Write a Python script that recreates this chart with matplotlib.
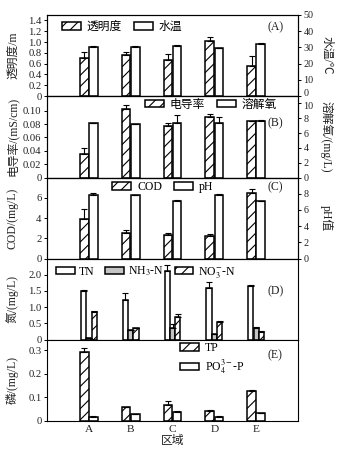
import numpy as np
import matplotlib
matplotlib.use("Agg")
import matplotlib.pyplot as plt
import matplotlib.transforms as mtransforms
from matplotlib.ticker import FixedLocator, FixedFormatter

plt.rcParams['font.family'] = ['Liberation Serif', 'Noto Sans CJK SC']
plt.rcParams['mathtext.fontset'] = 'stix'
plt.rcParams['hatch.linewidth'] = 0.8
plt.rcParams['axes.linewidth'] = 0.8

regions = ["A", "B", "C", "D", "E"]

# (A) transparency / water temperature
transp = [0.71, 0.76, 0.66, 1.02, 0.55]
transp_err = [0.11, 0.05, 0.12, 0.08, 0.19]
temp = [30.5, 30.0, 31.0, 29.5, 32.0]
temp_err = [0.6, 0.6, 0.5, 0.3, 0.7]

# (B) conductivity / dissolved oxygen
cond = [0.035, 0.103, 0.077, 0.090, 0.084]
cond_err = [0.009, 0.005, 0.004, 0.005, 0.001]
do = [7.3, 7.2, 7.4, 7.3, 7.6]
do_err = [0.0, 0.0, 1.1, 0.9, 0.1]

# (C) COD / pH
cod = [3.9, 2.5, 2.3, 2.2, 6.45]
cod_err = [1.0, 0.3, 0.25, 0.2, 0.4]
ph = [7.9, 7.78, 7.16, 7.9, 7.07]
ph_err = [0.2, 0.05, 0.05, 0.05, 0.05]

# (D) nitrogen
tn = [1.51, 1.22, 2.12, 1.58, 1.66]
tn_err = [0.02, 0.21, 0.19, 0.21, 0.02]
nh3 = [0.06, 0.28, 0.36, 0.18, 0.37]
nh3_err = [0.0, 0.02, 0.12, 0.0, 0.02]
no3 = [0.85, 0.34, 0.68, 0.55, 0.24]
no3_err = [0.02, 0.03, 0.1, 0.01, 0.01]

# (E) phosphorus
tp = [0.293, 0.057, 0.067, 0.043, 0.127]
tp_err = [0.015, 0.002, 0.015, 0.002, 0.003]
po4 = [0.017, 0.029, 0.039, 0.017, 0.032]
po4_err = [0.001, 0.001, 0.002, 0.001, 0.001]

x = np.arange(len(regions))
TXT = '#222222'
FS_TICK = 7.7
FS_LAB = 8.5


def bars(ax, pos, vals, errs, w, face, hatch=None, label=None):
    b = ax.bar(pos, vals, w, color=face, edgecolor='k', linewidth=1.1,
               hatch=hatch, label=label, zorder=2)
    ax.errorbar(pos, vals, yerr=[np.zeros(len(vals)), errs], fmt='none',
                ecolor='k', elinewidth=0.8, capsize=2, capthick=0.8, zorder=3)
    return b


def style_y(ax, ticks, labels, size=FS_TICK):
    ax.yaxis.set_major_locator(FixedLocator(ticks))
    ax.yaxis.set_major_formatter(FixedFormatter(labels))
    ax.tick_params(axis='y', direction='out', length=2.5, width=0.7,
                   labelsize=size, labelcolor=TXT, pad=1.5)


fig = plt.figure(figsize=(3.42, 4.55), dpi=100)
left, width = 47 / 342, 251 / 342
tops = [15, 96, 177.5, 258.5, 339.5, 420.7]
axes = []
for i in range(5):
    bottom = 1 - tops[i + 1] / 455
    h = (tops[i + 1] - tops[i]) / 455
    ax = fig.add_axes([left, bottom, width, h])
    ax.set_xlim(-1, 5)
    ax.set_xticks(x)
    if i < 4:
        ax.tick_params(axis='x', length=0, labelbottom=False)
    else:
        ax.set_xticklabels(regions)
        ax.tick_params(axis='x', length=0, labelsize=FS_TICK + 0.5,
                       labelcolor=TXT, pad=3)
        ax.set_xlabel("区域", fontsize=FS_LAB, color=TXT, labelpad=1)
    axes.append(ax)

w2, off2 = 0.21, 0.11
leg_kw = dict(frameon=False, fontsize=FS_LAB, handlelength=1.6, handleheight=0.55,
              handletextpad=0.5, columnspacing=1.0, borderpad=0, borderaxespad=0)
right_axes = []

# panel A
ax = axes[0]
axr = ax.twinx()
right_axes.append(axr)
h1 = bars(ax, x - off2, transp, transp_err, w2, 'white', '///')
h2 = bars(axr, x + off2, temp, temp_err, w2, 'white')
ax.set_ylim(0, 1.5)
axr.set_ylim(0, 50)
style_y(ax, [0, 0.2, 0.4, 0.6, 0.8, 1.0, 1.2, 1.4],
        ["0", "0.2", "0.4", "0.6", "0.8", "1.0", "1.2", "1.4"])
style_y(axr, [0, 10, 20, 30, 40, 50], ["0", "10", "20", "30", "40", "50"], 7.3)
ax.set_ylabel("透明度/m", fontsize=FS_LAB, color=TXT)
axr.set_ylabel("水温/℃", fontsize=FS_LAB, color=TXT, rotation=270)
axr.legend([h1, h2], ["透明度", "水温"], loc='center left',
           bbox_to_anchor=(0.06, 0.85), ncol=2, **leg_kw)
axr.text(0.91, 0.85, "(A)", transform=ax.transAxes, ha='center', va='center',
         fontsize=FS_LAB, color=TXT)

# panel B
ax = axes[1]
axr = ax.twinx()
right_axes.append(axr)
h1 = bars(ax, x - off2, cond, cond_err, w2, 'white', '///')
h2 = bars(axr, x + off2, do, do_err, w2, 'white')
ax.set_ylim(0, 0.122)
axr.set_ylim(0, 11.0)
style_y(ax, [0, 0.02, 0.04, 0.06, 0.08, 0.10],
        ["0", "0.02", "0.04", "0.06", "0.08", "0.10"])
style_y(axr, [0, 2, 4, 6, 8, 10], ["0", "2", "4", "6", "8", "10"], 7.3)
ax.set_ylabel("电导率/(mS/cm)", fontsize=FS_LAB, color=TXT)
axr.set_ylabel("溶解氧/(mg/L)", fontsize=FS_LAB, color=TXT, rotation=270)
axr.legend([h1, h2], ["电导率", "溶解氧"], loc='center left',
           bbox_to_anchor=(0.39, 0.89), ncol=2, **leg_kw)
axr.text(0.91, 0.67, "(B)", transform=ax.transAxes, ha='center', va='center',
         fontsize=FS_LAB, color=TXT)

# panel C
ax = axes[2]
axr = ax.twinx()
right_axes.append(axr)
h1 = bars(ax, x - off2, cod, cod_err, w2, 'white', '///')
h2 = bars(axr, x + off2, ph, ph_err, w2, 'white')
ax.set_ylim(0, 8)
axr.set_ylim(0, 10)
style_y(ax, [0, 2, 4, 6], ["0", "2", "4", "6"])
style_y(axr, [0, 2, 4, 6, 8], ["0", "2", "4", "6", "8"], 7.3)
ax.set_ylabel("COD/(mg/L)", fontsize=FS_LAB, color=TXT)
axr.set_ylabel("pH值", fontsize=FS_LAB, color=TXT, rotation=270)
axr.legend([h1, h2], ["COD", "pH"], loc='center left',
           bbox_to_anchor=(0.26, 0.88), ncol=2, **leg_kw)
axr.text(0.91, 0.88, "(C)", transform=ax.transAxes, ha='center', va='center',
         fontsize=FS_LAB, color=TXT)

# panel D
ax = axes[3]
w3, off3 = 0.125, 0.127
h1 = bars(ax, x - off3, tn, tn_err, w3, 'white')
h2 = bars(ax, x, nh3, nh3_err, w3, '#c4c4c4')
h3 = bars(ax, x + off3, no3, no3_err, w3, 'white', '///')
ax.set_ylim(0, 2.5)
style_y(ax, [0, 0.5, 1.0, 1.5, 2.0], ["0", "0.5", "1.0", "1.5", "2.0"])
ax.set_ylabel("氮/(mg/L)", fontsize=FS_LAB, color=TXT)
ax.legend([h1, h2, h3], ["TN", "NH$_3$-N", "NO$_3^{-}$-N"], loc='center left',
          bbox_to_anchor=(0.035, 0.83), ncol=3,
          **{**leg_kw, 'columnspacing': 0.9, 'handletextpad': 0.35})
ax.text(0.91, 0.59, "(D)", transform=ax.transAxes, ha='center', va='center',
        fontsize=FS_LAB, color=TXT)

# panel E
ax = axes[4]
h1 = bars(ax, x - off2, tp, tp_err, w2, 'white', '///')
h2 = bars(ax, x + off2, po4, po4_err, w2, 'white')
ax.set_ylim(0, 0.345)
style_y(ax, [0, 0.1, 0.2, 0.3], ["0", "0.1", "0.2", "0.3"])
ax.set_ylabel("磷/(mg/L)", fontsize=FS_LAB, color=TXT)
ax.legend([h1, h2], ["TP", "PO$_4^{3-}$-P"], loc='center left',
          bbox_to_anchor=(0.53, 0.76), ncol=1,
          **{**leg_kw, 'labelspacing': 0.3})
ax.text(0.91, 0.81, "(E)", transform=ax.transAxes, ha='center', va='center',
        fontsize=FS_LAB, color=TXT)

for ax in axes:
    ax.yaxis.set_label_coords(-0.112, 0.5)
for ax in right_axes:
    ax.yaxis.set_label_coords(1.14, 0.5)

# nudge the two right-hand labels that meet at the A/B border
up = mtransforms.ScaledTranslation(0, 2.5 / 72, fig.dpi_scale_trans)
down = mtransforms.ScaledTranslation(0, -1.5 / 72, fig.dpi_scale_trans)
t0 = right_axes[0].yaxis.get_major_ticks()[0].label2
t0.set_transform(t0.get_transform() + up)
t10 = right_axes[1].yaxis.get_major_ticks()[-1].label2
t10.set_transform(t10.get_transform() + down)

fig.savefig("out.png", dpi=100)
